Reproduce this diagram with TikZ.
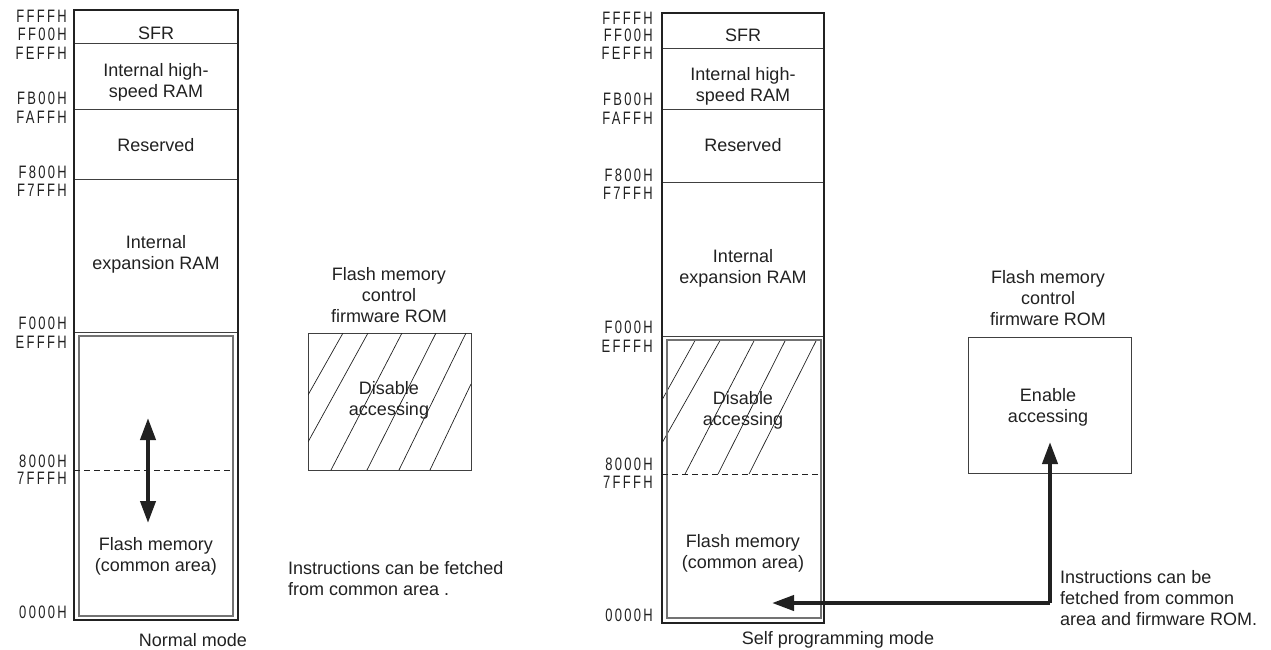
\documentclass[tikz,border=0pt]{standalone}
\usepackage{fontspec}
\setmainfont{Liberation Sans}
\newfontfamily\addrfont[LetterSpace=13,FakeStretch=0.72]{Liberation Sans}
\usetikzlibrary{arrows.meta}
\definecolor{ink}{gray}{0.13}
\begin{document}
\begin{tikzpicture}[x=1pt,y=-1pt,
  lbl/.style={font=\fontsize{18}{21}\selectfont, align=center, text=ink, inner sep=0pt},
  note/.style={font=\fontsize{18}{21}\selectfont, align=left, text=ink, inner sep=0pt, anchor=west},
  addr/.style={font=\addrfont\fontsize{18}{18}\selectfont, anchor=east, inner sep=0pt, text=ink},
  outerbox/.style={draw=ink, line width=2.6pt},
  innerbox/.style={draw=black!55, line width=1.3pt},
  sep/.style={draw=black!75, line width=0.9pt},
  dashline/.style={draw=ink, line width=0.8pt, dash pattern=on 6pt off 4pt},
  hatch/.style={draw=ink, line width=0.7pt},
  rombox/.style={draw=black!75, line width=0.9pt, inner sep=0pt},
  bigarrow/.style={draw=ink, line width=4pt, -{Triangle[width=15pt,length=22pt]}},
  dblarrow/.style={draw=ink, line width=4pt, {Triangle[width=15pt,length=22pt]}-{Triangle[width=15pt,length=22pt]}}]
\useasboundingbox (0,0) rectangle (1271,649);

% ---------------- Normal mode ----------------
\draw[sep] (74,43) -- (238,43);
\draw[sep] (74,109) -- (238,109);
\draw[sep] (74,179) -- (238,179);
\draw[sep] (74,332) -- (238,332);
\draw[innerbox] (79,336) rectangle (233,616);
\draw[dashline] (74,470) -- (233,470);
\draw[outerbox] (74,10) rectangle (238,620);

\node[addr] (la1) at (67,16) {FFFFH};
\node[addr] (la2) at (67,34) {FF00H};
\node[addr] (la3) at (67,53) {FEFFH};
\node[addr] (la4) at (67,98) {FB00H};
\node[addr] (la5) at (67,117) {FAFFH};
\node[addr] (la6) at (67,172) {F800H};
\node[addr] (la7) at (67,190) {F7FFH};
\node[addr] (la8) at (67,323) {F000H};
\node[addr] (la9) at (67,342) {EFFFH};
\node[addr] (la10) at (67,461) {8000H};
\node[addr] (la11) at (67,478) {7FFFH};
\node[addr] (la12) at (67,612) {0000H};

\node[lbl] (lsfr) at (156,33) {SFR};
\node[lbl] (lhs) at (156,82) {Internal high-\\speed RAM};
\node[lbl] (lres) at (156,145) {Reserved};
\node[lbl] (lexp) at (156,254) {Internal\\expansion RAM};
\node[lbl] (lflash) at (156,556) {Flash memory\\(common area)};
\coordinate (lup) at (148,418);
\coordinate (ldn) at (148,523);
\draw[dblarrow] (lup) -- (ldn);
\node[lbl] (lmode) at (193,640) {Normal mode};

% ROM (disabled)
\node[lbl] (lromt) at (389,295) {Flash memory\\control\\firmware ROM};
\node[rombox, minimum width=163pt, minimum height=137pt] (lrom) at (389.5,401.5) {};
\begin{scope}
\clip (308,333) rectangle (471,470);
\draw[hatch] (308,395) -- (343,333);
\draw[hatch] (308,442) -- (368,333);
\draw[hatch] (331,470) -- (402,333);
\draw[hatch] (367,470) -- (436,333);
\draw[hatch] (399,470) -- (466,333);
\draw[hatch] (430,470) -- (471,384);
\end{scope}
\node[lbl] (ldis) at (389,400) {Disable\\accessing};
\node[note] (lnote) at (288,579) {Instructions can be fetched\\from common area .};

% ---------------- Self programming mode ----------------
\draw[sep] (662,48) -- (824,48);
\draw[sep] (662,109) -- (824,109);
\draw[sep] (662,182) -- (824,182);
\draw[sep] (662,336) -- (824,336);
\begin{scope}
\clip (662,340) rectangle (821,474);
\draw[hatch] (662,400) -- (697,337);
\draw[hatch] (662,443) -- (722,337);
\draw[hatch] (685,474) -- (756,337);
\draw[hatch] (718,474) -- (787,337);
\draw[hatch] (749,474) -- (818,337);
\end{scope}
\draw[innerbox] (667,340) rectangle (821,618);
\draw[dashline] (662,474) -- (821,474);
\draw[outerbox] (662,13) rectangle (824,623);

\node[addr] (ra1) at (653,18) {FFFFH};
\node[addr] (ra2) at (653,35) {FF00H};
\node[addr] (ra3) at (653,53) {FEFFH};
\node[addr] (ra4) at (653,99) {FB00H};
\node[addr] (ra5) at (653,118) {FAFFH};
\node[addr] (ra6) at (653,175) {F800H};
\node[addr] (ra7) at (653,193) {F7FFH};
\node[addr] (ra8) at (653,327) {F000H};
\node[addr] (ra9) at (653,346) {EFFFH};
\node[addr] (ra10) at (653,464) {8000H};
\node[addr] (ra11) at (653,482) {7FFFH};
\node[addr] (ra12) at (653,615) {0000H};

\node[lbl] (rsfr) at (743,35) {SFR};
\node[lbl] (rhs) at (743,86) {Internal high-\\speed RAM};
\node[lbl] (rres) at (743,145) {Reserved};
\node[lbl] (rexp) at (743,268) {Internal\\expansion RAM};
\node[lbl] (rdis) at (743,410) {Disable\\accessing};
\node[lbl] (rflash) at (743,553) {Flash memory\\(common area)};
\node[lbl] (rmode) at (838,640) {Self programming mode};

% ROM (enabled)
\node[lbl] (rromt) at (1048,298) {Flash memory\\control\\firmware ROM};
\node[rombox, minimum width=163pt, minimum height=136pt] (rrom) at (1049.5,405) {};
\node[lbl] (ren) at (1048,407) {Enable\\accessing};
\coordinate (rcorner) at (1050,603);
\coordinate (rtip) at (1050,442);
\coordinate (ltip) at (772,603);
\draw[bigarrow] (rcorner) -- (rtip);
\draw[bigarrow] (rcorner) -- (ltip);
\node[note] (rnote) at (1060,598) {Instructions can be\\fetched from common\\area and firmware ROM.};
\end{tikzpicture}
\end{document}
